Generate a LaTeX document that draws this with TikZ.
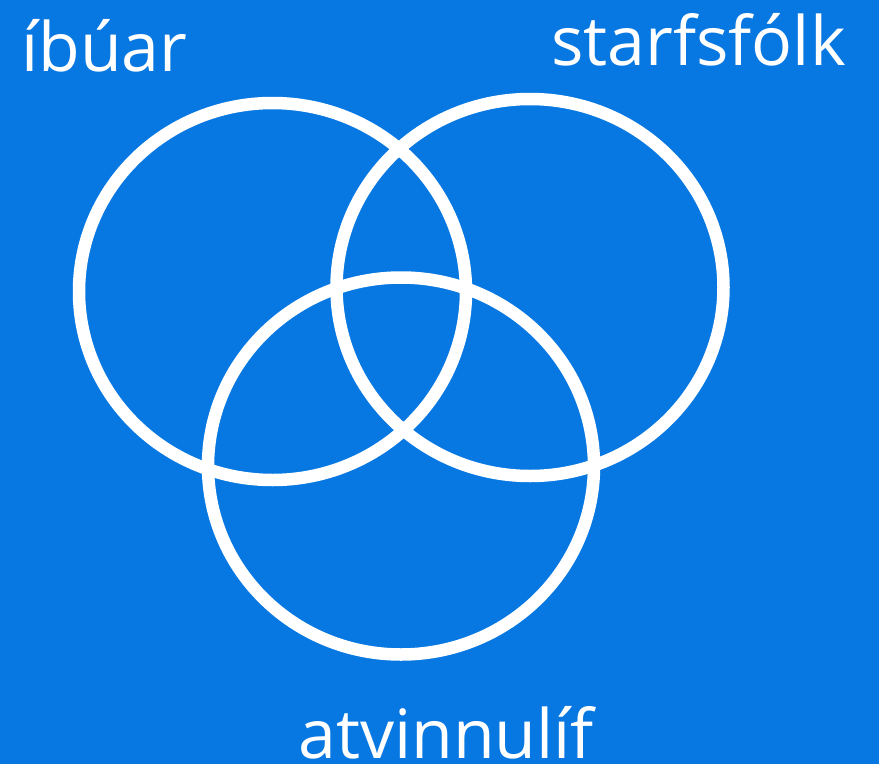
\documentclass[tikz,border=0pt]{standalone}
\usepackage{fontspec}
\setmainfont{Open Sans}
\definecolor{bgblue}{RGB}{7,119,226}
\tikzset{
  ring/.style={draw=white, line width=12.5pt},
  lbl/.style={text=white, inner sep=0pt, anchor=base west, font=\fontsize{68}{68}\selectfont}
}
\begin{document}
\begin{tikzpicture}[x=1pt,y=-1pt]
\fill[bgblue] (0,0) rectangle (879,764);
\useasboundingbox (0,0) rectangle (879,764);
\draw[ring] (272.5,291.5) ellipse [x radius=193.5, y radius=188.5];
\draw[ring] (530,287.5) ellipse [x radius=193.5, y radius=188.5];
\draw[ring] (401,466) ellipse [x radius=193, y radius=188.5];
\node[lbl] (ibuar) at (21,71) {íbúar};
\node[lbl] (starf) at (551,65) {starfsfólk};
\node[lbl] (atvinna) at (298,758) {atvinnulíf};
\end{tikzpicture}
\end{document}
